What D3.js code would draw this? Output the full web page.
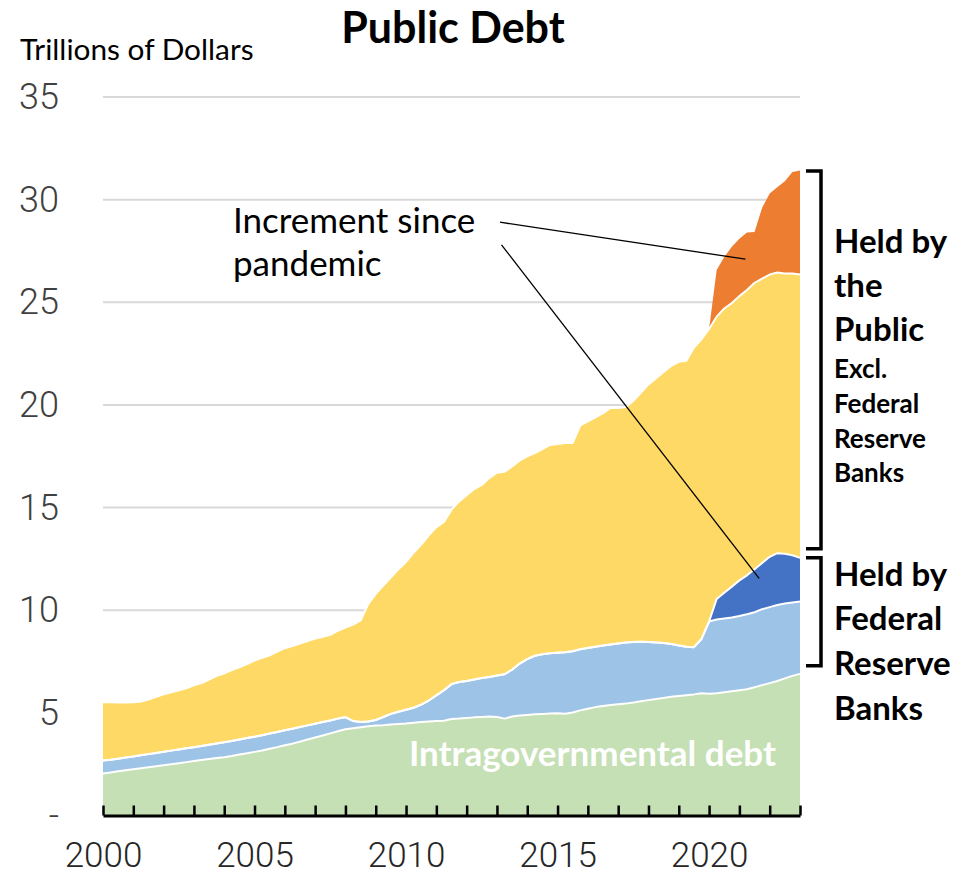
<!DOCTYPE html>
<html>
<head>
<meta charset="utf-8">
<script src="https://cdn.jsdelivr.net/npm/d3@7"></script>
<style>
  html, body { margin: 0; padding: 0; background: #ffffff; }
  svg { display: block; }
</style>
</head>
<body>
<svg id="chart" width="969" height="877"></svg>
<script>
// Quarterly observations, first quarter of 2000 through first quarter of 2023 (trillions of dollars)
const startYear = 2000;

const intragovernmental = [
  2.05, 2.10, 2.15, 2.20, 2.25, 2.30, 2.35, 2.40, 2.45, 2.50,
  2.55, 2.60, 2.65, 2.70, 2.75, 2.80, 2.84, 2.90, 2.97, 3.03,
  3.10, 3.17, 3.25, 3.33, 3.42, 3.50, 3.60, 3.70, 3.80, 3.90,
  4.00, 4.10, 4.20, 4.25, 4.30, 4.35, 4.38, 4.40, 4.43, 4.46,
  4.48, 4.52, 4.55, 4.58, 4.60, 4.62,
  4.70, 4.72, 4.75, 4.78, 4.80, 4.82, 4.80, 4.72, 4.82, 4.87,
  4.90, 4.93, 4.95, 4.97, 4.98, 4.96, 5.02, 5.12, 5.20, 5.28,
  5.33, 5.38, 5.42, 5.45, 5.50, 5.56, 5.62, 5.68, 5.73, 5.78,
  5.82, 5.86, 5.90, 5.95, 5.93, 5.95, 6.00, 6.05, 6.10, 6.15,
  6.25, 6.35, 6.45, 6.55, 6.68, 6.80, 6.90
];

// Federal Reserve holdings up to the pre-pandemic level
const fedBase = [
  0.63, 0.62, 0.62, 0.62, 0.62, 0.63, 0.64, 0.65, 0.65, 0.66,
  0.67, 0.68, 0.68, 0.69, 0.70, 0.71, 0.73, 0.73, 0.73, 0.74,
  0.74, 0.74, 0.74, 0.74, 0.73, 0.73, 0.71, 0.69, 0.67, 0.65,
  0.63, 0.62, 0.59, 0.35, 0.25, 0.23, 0.27, 0.40, 0.52, 0.59,
  0.67, 0.73, 0.85, 1.02, 1.25, 1.48,
  1.70, 1.78, 1.80, 1.84, 1.90, 1.93, 2.02, 2.16, 2.28, 2.53,
  2.72, 2.85, 2.90, 2.93, 2.95, 2.99, 2.98, 2.98, 2.96, 2.94,
  2.95, 2.95, 2.96, 2.98, 2.95, 2.90, 2.83, 2.75, 2.67, 2.57,
  2.46, 2.36, 2.30, 2.65, 3.52, 3.60, 3.60, 3.60, 3.62, 3.65,
  3.65, 3.70, 3.70, 3.70, 3.65, 3.58, 3.52
];

// Federal Reserve holdings added since the pandemic
const fedIncrement = [
  0, 0, 0, 0, 0, 0, 0, 0, 0, 0,
  0, 0, 0, 0, 0, 0, 0, 0, 0, 0,
  0, 0, 0, 0, 0, 0, 0, 0, 0, 0,
  0, 0, 0, 0, 0, 0, 0, 0, 0, 0,
  0, 0, 0, 0, 0, 0,
  0, 0, 0, 0, 0, 0, 0, 0, 0, 0,
  0, 0, 0, 0, 0, 0, 0, 0, 0, 0,
  0, 0, 0, 0, 0, 0, 0, 0, 0, 0,
  0, 0, 0, 0, 0, 1.00, 1.25, 1.50, 1.73, 1.90,
  2.10, 2.25, 2.45, 2.53, 2.42, 2.30, 2.13
];

// Held by the public, excluding Federal Reserve Banks, up to the pre-pandemic level
const publicBase = [
  2.84, 2.80, 2.73, 2.68, 2.65, 2.62, 2.66, 2.73, 2.80, 2.84,
  2.88, 2.92, 3.01, 3.06, 3.17, 3.29, 3.35, 3.45, 3.52, 3.61,
  3.71, 3.77, 3.81, 3.91, 4.00, 4.02, 4.07, 4.11, 4.15, 4.15,
  4.17, 4.28, 4.36, 4.70, 4.95, 5.72, 6.15, 6.40, 6.65, 6.95,
  7.20, 7.55, 7.80, 8.05, 8.20, 8.20,
  8.50, 8.80, 9.05, 9.28, 9.40, 9.70, 9.88, 9.87, 9.90, 9.90,
  9.88, 9.87, 10.00, 10.15, 10.17, 10.20, 10.15, 10.90, 11.04, 11.18,
  11.32, 11.52, 11.47, 11.47, 11.75, 12.14, 12.55, 12.87, 13.20, 13.55,
  13.82, 13.93, 14.60, 14.60, 14.25, 13.75, 13.85, 13.81, 13.85, 13.90,
  13.95, 13.85, 13.75, 13.67, 13.65, 13.72, 13.80
];

// Held by the public, added since the pandemic
const publicIncrement = [
  0, 0, 0, 0, 0, 0, 0, 0, 0, 0,
  0, 0, 0, 0, 0, 0, 0, 0, 0, 0,
  0, 0, 0, 0, 0, 0, 0, 0, 0, 0,
  0, 0, 0, 0, 0, 0, 0, 0, 0, 0,
  0, 0, 0, 0, 0, 0,
  0, 0, 0, 0, 0, 0, 0, 0, 0, 0,
  0, 0, 0, 0, 0, 0, 0, 0, 0, 0,
  0, 0, 0, 0, 0, 0, 0, 0, 0, 0,
  0, 0, 0, 0, 0, 2.27, 2.50, 2.74, 2.80, 2.80,
  2.47, 3.45, 3.95, 4.15, 4.50, 4.95, 5.07
];

const yTickValues = [0, 5, 10, 15, 20, 25, 30, 35];
const xLabelYears = [2000, 2005, 2010, 2015, 2020];
const xTickYears = d3.range(2000, 2024);

const seriesKeys = ["intragovernmental", "fedBase", "fedIncrement", "publicBase", "publicIncrement"];
const seriesColors = {
  intragovernmental: "#C5E0B4",
  fedBase: "#9DC3E6",
  fedIncrement: "#4472C4",
  publicBase: "#FFD966",
  publicIncrement: "#ED7D31"
};

// Right-hand brackets: [low, high] in trillions
const bracketRanges = [
  { low: 13.0, high: 31.4 },
  { low: 7.3, high: 12.55 }
];

// Leader lines from the "Increment since pandemic" note: [year, value] endpoints
const leaderLines = [
  { from: [2013.1, 28.9], to: [2021.2, 27.1] },
  { from: [2013.15, 27.8], to: [2021.65, 11.55] }
];

const rows = intragovernmental.map((v, i) => ({
  year: startYear + i / 4,
  intragovernmental: v,
  fedBase: fedBase[i],
  fedIncrement: fedIncrement[i],
  publicBase: publicBase[i],
  publicIncrement: publicIncrement[i]
}));

const svg = d3.select("#chart");
const labelFont = "Lato, 'Open Sans', sans-serif";
const numberFont = "Roboto, 'DejaVu Sans', sans-serif";

const x = d3.scaleLinear().domain([2000, 2023]).range([103, 800]);
const y = d3.scaleLinear().domain([0, 35]).range([815.5, 97]);

// Horizontal gridlines
svg.append("g")
  .selectAll("line")
  .data(yTickValues.filter(d => d > 0))
  .join("line")
  .attr("x1", x(2000))
  .attr("x2", x(2023))
  .attr("y1", d => y(d))
  .attr("y2", d => y(d))
  .attr("stroke", "#d9d9d9")
  .attr("stroke-width", 2);

// Stacked areas
const stacked = d3.stack().keys(seriesKeys)(rows);

const area = d3.area()
  .x(d => x(d.data.year))
  .y0(d => y(d[0]))
  .y1(d => y(d[1]))
  .curve(d3.curveLinear);

svg.append("g")
  .selectAll("path")
  .data(stacked)
  .join("path")
  .attr("d", area)
  .attr("fill", d => seriesColors[d.key]);

// White separators along the top of each lower layer
const topLine = d3.line()
  .x(d => x(d.data.year))
  .y(d => y(d[1]))
  .curve(d3.curveLinear);

svg.append("g")
  .selectAll("path")
  .data(stacked.slice(0, 4))
  .join("path")
  .attr("d", topLine)
  .attr("fill", "none")
  .attr("stroke", "#ffffff")
  .attr("stroke-width", 2)
  .attr("stroke-linejoin", "round");

// X axis: baseline with upward ticks at every year
const xAxisTicks = svg.append("g")
  .attr("transform", `translate(0,${y(0)})`)
  .call(d3.axisBottom(x).tickValues(xTickYears).tickSize(-10).tickSizeOuter(0).tickFormat(""));
xAxisTicks.select(".domain").attr("stroke", "#000").attr("stroke-width", 3);
xAxisTicks.selectAll(".tick line").attr("stroke", "#000").attr("stroke-width", 2.5);

const xAxisLabels = svg.append("g")
  .attr("transform", `translate(0,${y(0)})`)
  .call(d3.axisBottom(x).tickValues(xLabelYears).tickSize(0).tickPadding(27).tickFormat(d3.format("d")));
xAxisLabels.select(".domain").remove();
xAxisLabels.selectAll("text")
  .attr("font-family", numberFont)
  .attr("font-weight", 300)
  .attr("font-size", 35)
  .attr("fill", "#262626");

// Y axis labels
const yAxis = svg.append("g")
  .attr("transform", "translate(59,0)")
  .call(d3.axisLeft(y).tickValues(yTickValues).tickSize(0).tickPadding(0)
    .tickFormat(d => d === 0 ? "-" : d));
yAxis.select(".domain").remove();
yAxis.selectAll("text")
  .attr("font-family", numberFont)
  .attr("font-weight", 300)
  .attr("font-size", 36)
  .attr("fill", "#404040");

// Title and unit label
svg.append("text")
  .attr("x", 453).attr("y", 43)
  .attr("text-anchor", "middle")
  .attr("font-family", labelFont)
  .attr("font-weight", 700)
  .attr("font-size", 43)
  .attr("fill", "#000")
  .text("Public Debt");

svg.append("text")
  .attr("x", 20).attr("y", 60)
  .attr("font-family", labelFont)
  .attr("font-size", 29.8)
  .attr("fill", "#000")
  .text("Trillions of Dollars");

// Note with leader lines
const note = svg.append("text")
  .attr("font-family", labelFont)
  .attr("font-size", 35)
  .attr("fill", "#000");
note.append("tspan").attr("x", 233).attr("y", 233).text("Increment since");
note.append("tspan").attr("x", 233).attr("y", 276).text("pandemic");

svg.append("g")
  .selectAll("line")
  .data(leaderLines)
  .join("line")
  .attr("x1", d => x(d.from[0]))
  .attr("y1", d => y(d.from[1]))
  .attr("x2", d => x(d.to[0]))
  .attr("y2", d => y(d.to[1]))
  .attr("stroke", "#000")
  .attr("stroke-width", 1.3);

// Label inside the intragovernmental layer
svg.append("text")
  .attr("x", 776).attr("y", 766)
  .attr("text-anchor", "end")
  .attr("font-family", labelFont)
  .attr("font-weight", 700)
  .attr("font-size", 35)
  .attr("fill", "#ffffff")
  .text("Intragovernmental debt");

// Brackets on the right
svg.append("g")
  .selectAll("path")
  .data(bracketRanges)
  .join("path")
  .attr("d", d => {
    const xr = 821, xl = 806;
    return `M${xl},${y(d.high)}H${xr}V${y(d.low)}H${xl}`;
  })
  .attr("fill", "none")
  .attr("stroke", "#000")
  .attr("stroke-width", 3.5);

// Bracket labels
const bracketLabels = [
  { text: "Held by", y: 253, size: 33 },
  { text: "the", y: 297, size: 33 },
  { text: "Public", y: 341, size: 33 },
  { text: "Excl.", y: 378, size: 26 },
  { text: "Federal", y: 413, size: 26 },
  { text: "Reserve", y: 448, size: 26 },
  { text: "Banks", y: 482, size: 26 },
  { text: "Held by", y: 586, size: 33 },
  { text: "Federal", y: 630, size: 33 },
  { text: "Reserve", y: 675, size: 33 },
  { text: "Banks", y: 720, size: 33 }
];

svg.append("g")
  .selectAll("text")
  .data(bracketLabels)
  .join("text")
  .attr("x", 834)
  .attr("y", d => d.y)
  .attr("font-family", labelFont)
  .attr("font-weight", 700)
  .attr("font-size", d => d.size)
  .attr("fill", "#000")
  .text(d => d.text);
</script>
</body>
</html>
